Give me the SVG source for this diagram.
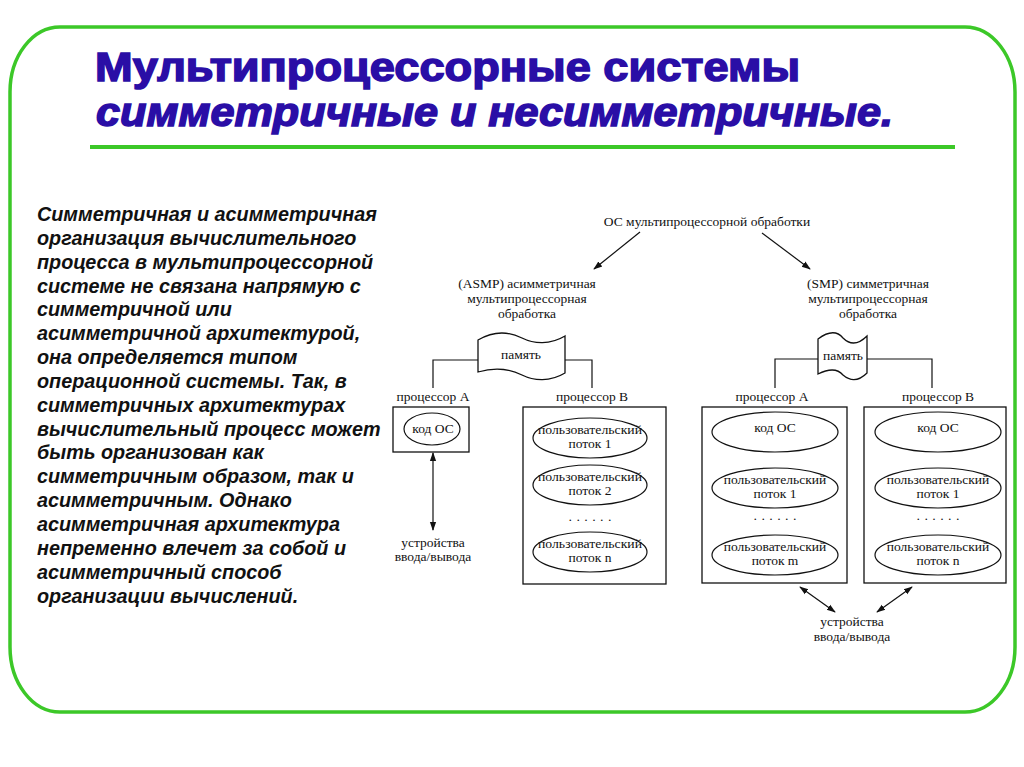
<svg xmlns="http://www.w3.org/2000/svg" width="1024" height="767" viewBox="0 0 1024 767">
<defs>
<style>
.frame{fill:none;stroke:#3cc828;stroke-width:3.5}
.title{font-family:"Liberation Sans",Arial,sans-serif;font-weight:bold;font-size:40px;fill:#2a0ea6;stroke:#2a0ea6;stroke-width:1.5}
.para{font-family:"Liberation Sans",Arial,sans-serif;font-weight:bold;font-style:italic;font-size:19.8px;fill:#111}
.d{font-family:"Liberation Serif","Times New Roman",serif;font-size:13.5px;fill:#111;text-anchor:middle}
.box{fill:#fff;stroke:#111;stroke-width:1.3}
.ell{fill:#fff;stroke:#111;stroke-width:1.2}
.ln{fill:none;stroke:#111;stroke-width:1.2}
</style>
<marker id="ah" viewBox="0 0 10 10" refX="9" refY="5" markerWidth="9" markerHeight="9" markerUnits="userSpaceOnUse" orient="auto-start-reverse">
<path d="M0,1.5 L10,5 L0,8.5 Z" fill="#111"/>
</marker>
</defs>
<rect width="1024" height="767" fill="#fff"/>
<rect id="frame" class="frame" x="10" y="27" width="1005" height="685" rx="50" ry="65"/>

<g id="title">
<text class="title" x="95" y="81" textLength="705" lengthAdjust="spacingAndGlyphs">Мультипроцессорные системы</text>
<text class="title" x="96" y="126" font-style="italic" textLength="797" lengthAdjust="spacingAndGlyphs">симметричные и  несимметричные.</text>
<rect x="90" y="145" width="865" height="4" fill="#3cc828"/>
</g>

<g id="paragraph" class="para">
<text x="37" y="221">Симметричная и асимметричная</text>
<text x="37" y="245">организация вычислительного</text>
<text x="37" y="269">процесса в мультипроцессорной</text>
<text x="37" y="293">системе не связана напрямую с</text>
<text x="37" y="316">симметричной или</text>
<text x="37" y="340">асимметричной архитектурой,</text>
<text x="37" y="364">она определяется типом</text>
<text x="37" y="388">операционной системы. Так, в</text>
<text x="37" y="412">симметричных архитектурах</text>
<text x="37" y="436">вычислительный процесс может</text>
<text x="37" y="459">быть организован как</text>
<text x="37" y="483">симметричным образом, так и</text>
<text x="37" y="507">асимметричным. Однако</text>
<text x="37" y="531">асимметричная архитектура</text>
<text x="37" y="555">непременно влечет за собой и</text>
<text x="37" y="579">асимметричный способ</text>
<text x="37" y="603">организации вычислений.</text>
</g>

<g id="connectors">
<line class="ln" x1="640" y1="232" x2="594" y2="269" marker-end="url(#ah)"/>
<line class="ln" x1="762" y1="233" x2="810" y2="269" marker-end="url(#ah)"/>
<polyline class="ln" points="478,360 433,360 433,388"/>
<polyline class="ln" points="565,360 592,360 592,388"/>
<polyline class="ln" points="818,359 775,359 775,388"/>
<polyline class="ln" points="867,359 932,359 932,388"/>
<line class="ln" x1="433" y1="453" x2="433" y2="530" marker-start="url(#ah)" marker-end="url(#ah)"/>
<line class="ln" x1="800" y1="587" x2="835" y2="612" marker-start="url(#ah)" marker-end="url(#ah)"/>
<line class="ln" x1="912" y1="587" x2="877" y2="612" marker-start="url(#ah)" marker-end="url(#ah)"/>
</g>

<g id="os-root">
<text class="d" x="707" y="226">ОС мультипроцессорной обработки</text>
</g>

<g id="asmp-label">
<text class="d" x="527" y="288">(ASMP) асимметричная</text>
<text class="d" x="527" y="303">мультипроцессорная</text>
<text class="d" x="527" y="318">обработка</text>
</g>
<g id="smp-label">
<text class="d" x="868" y="288">(SMP) симметричная</text>
<text class="d" x="868" y="303">мультипроцессорная</text>
<text class="d" x="868" y="318">обработка</text>
</g>

<g id="asmp-memory">
<path class="box" d="M478,340 C495,330 510,332 522,338 C534,344 550,345 565,336 L565,373 C550,382 534,381 522,375 C510,369 495,367 478,372 Z"/>
<text class="d" x="521" y="359">память</text>
</g>
<g id="smp-memory">
<path class="box" d="M818,339 C830,330 838,332 843,338 C850,345 858,345 867,336 L867,373 C858,382 850,381 843,375 C838,369 830,368 818,374 Z"/>
<text class="d" x="843" y="360">память</text>
</g>

<g id="asmp-proc-a">
<text class="d" x="433" y="401">процессор А</text>
<rect class="box" x="393" y="407" width="76" height="45"/>
<ellipse class="ell" cx="432" cy="429" rx="28" ry="16"/>
<text class="d" x="433" y="433">код ОС</text>
</g>
<g id="asmp-io">
<text class="d" x="433" y="547">устройства</text>
<text class="d" x="433" y="561">ввода/вывода</text>
</g>

<g id="asmp-proc-b">
<text class="d" x="592" y="401">процессор В</text>
<rect class="box" x="523" y="407" width="143" height="177"/>
<ellipse class="ell" cx="590" cy="438" rx="57" ry="20"/>
<text class="d" x="590" y="434" textLength="104" lengthAdjust="spacingAndGlyphs">пользовательский</text>
<text class="d" x="590" y="448">поток 1</text>
<ellipse class="ell" cx="590" cy="485" rx="57" ry="20"/>
<text class="d" x="590" y="481" textLength="104" lengthAdjust="spacingAndGlyphs">пользовательский</text>
<text class="d" x="590" y="495">поток 2</text>
<text class="d" x="590" y="524">· · · · · ·</text>
<ellipse class="ell" cx="590" cy="552" rx="57" ry="20"/>
<text class="d" x="590" y="548" textLength="104" lengthAdjust="spacingAndGlyphs">пользовательский</text>
<text class="d" x="590" y="562">поток n</text>
</g>

<g id="smp-proc-a">
<text class="d" x="772" y="401">процессор А</text>
<rect class="box" x="702" y="407" width="145" height="176"/>
<ellipse class="ell" cx="775" cy="432" rx="63" ry="20"/>
<text class="d" x="775" y="432">код ОС</text>
<ellipse class="ell" cx="775" cy="488" rx="63" ry="20"/>
<text class="d" x="775" y="484">пользовательский</text>
<text class="d" x="775" y="498">поток 1</text>
<text class="d" x="775" y="523">· · · · · ·</text>
<ellipse class="ell" cx="775" cy="555" rx="63" ry="20"/>
<text class="d" x="775" y="551">пользовательский</text>
<text class="d" x="775" y="565">поток m</text>
</g>

<g id="smp-proc-b">
<text class="d" x="938" y="401">процессор В</text>
<rect class="box" x="864" y="407" width="142" height="176"/>
<ellipse class="ell" cx="938" cy="432" rx="63" ry="20"/>
<text class="d" x="938" y="432">код ОС</text>
<ellipse class="ell" cx="938" cy="488" rx="63" ry="20"/>
<text class="d" x="938" y="484">пользовательский</text>
<text class="d" x="938" y="498">поток 1</text>
<text class="d" x="938" y="523">· · · · · ·</text>
<ellipse class="ell" cx="938" cy="555" rx="63" ry="20"/>
<text class="d" x="938" y="551">пользовательский</text>
<text class="d" x="938" y="565">поток n</text>
</g>

<g id="smp-io">
<text class="d" x="852" y="626">устройства</text>
<text class="d" x="852" y="641">ввода/вывода</text>
</g>
</svg>
